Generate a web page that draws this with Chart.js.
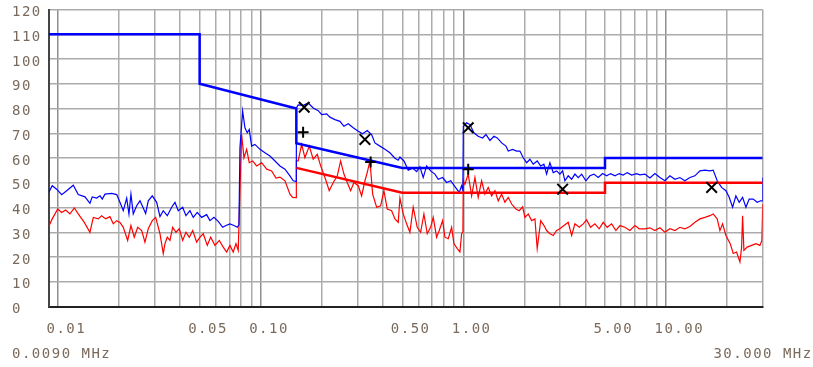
<!DOCTYPE html>
<html><head><meta charset="utf-8">
<script src="https://cdn.jsdelivr.net/npm/chart.js@4.4.1/dist/chart.umd.min.js"></script>
<style>html,body{margin:0;padding:0;background:#fff;}canvas{display:block;}</style>
</head><body>
<canvas id="c" width="813" height="367"></canvas>
<script>
// ---- data (MHz, dBuV) ----
const qpFreq = [0.009,0.00937,0.00985,0.01043,0.01104,0.0119,0.01259,0.01359,0.01438,0.01476,0.01552,0.01612,0.01654,0.01706,0.01841,0.01949,0.02022,0.0210,0.02183,0.0224,0.02291,0.02352,0.02445,0.02539,0.02605,0.02708,0.02789,0.02919,0.03069,0.03186,0.03307,0.03461,0.03639,0.03778,0.03921,0.04123,0.0428,0.0448,0.0465,0.04866,0.05117,0.05415,0.0562,0.05882,0.06176,0.06494,0.06741,0.07056,0.07382,0.07665,0.07816,0.07903,0.08151,0.08367,0.08586,0.08785,0.09027,0.0937,0.09922,0.105,0.1111,0.1177,0.1245,0.1318,0.1395,0.1448,0.1495,0.150,0.1532,0.1623,0.1717,0.1817,0.1924,0.200,0.2117,0.2197,0.2326,0.2462,0.2576,0.2705,0.2863,0.3031,0.3186,0.3356,0.3528,0.3662,0.3878,0.4104,0.4343,0.4598,0.4773,0.4866,0.5093,0.5347,0.562,0.5882,0.6106,0.6341,0.6592,0.6896,0.724,0.7519,0.7903,0.8272,0.8657,0.9091,0.9546,0.9808,0.995,1.0,1.038,1.078,1.128,1.184,1.245,1.293,1.353,1.416,1.470,1.545,1.623,1.666,1.751,1.832,1.902,1.975,2.053,2.131,2.212,2.315,2.406,2.497,2.576,2.674,2.777,2.886,2.996,3.090,3.171,3.293,3.423,3.553,3.690,3.835,4.025,4.213,4.410,4.630,4.866,5.093,5.331,5.598,5.877,6.150,6.436,6.768,7.161,7.433,7.870,8.329,8.815,9.333,9.876,10.45,11.07,11.71,12.39,13.12,13.89,14.70,15.56,16.47,17.09,17.89,18.81,19.75,20.50,21.31,22.12,22.97,23.87,24.79,25.73,26.93,28.18,29.29,29.9,30];
const qpLevel = [46.1,48.8,47.4,45.2,46.8,49.0,45.2,44.3,41.7,44.3,43.8,44.7,43.4,45.4,45.7,45.2,42.1,38.7,43.8,37.4,45.4,37.4,40.7,42.7,40.7,37.6,42.7,44.7,42.1,36.3,38.7,36.7,40.1,42.1,38.7,40.1,36.7,38.7,36.0,38.0,36.0,37.1,34.7,36.0,34.4,32.0,32.7,33.4,32.7,32.0,33.0,64.1,78.9,72.2,70.2,71.5,64.8,65.5,63.5,62.1,60.8,58.8,56.8,55.5,52.8,50.8,50.5,80.2,81.5,81.3,82.2,80.2,79.1,77.5,77.8,76.5,75.5,74.8,72.8,73.8,72.2,70.8,69.8,71.1,69.5,66.1,64.8,63.5,62.1,59.9,59.1,60.4,58.8,55.1,55.9,54.5,56.4,52.1,56.8,54.8,53.5,51.4,52.1,50.1,50.8,48.4,46.1,48.8,47.0,72.8,74.2,73.5,70.2,68.8,68.1,69.5,67.1,68.8,68.1,66.1,64.8,62.8,63.5,62.8,62.8,60.1,58.1,59.5,57.5,58.8,56.8,57.5,53.5,58.1,54.1,54.8,53.5,54.8,50.8,52.8,51.4,53.5,52.1,53.5,50.8,52.8,53.5,52.1,53.7,52.8,53.7,52.8,53.7,53.1,54.1,53.1,53.7,53.2,53.5,51.9,53.7,52.1,50.8,52.8,51.4,52.1,50.8,52.1,52.8,54.8,55.1,54.8,55.1,50.8,48.1,46.8,44.1,40.1,44.7,42.1,44.1,40.1,43.4,43.4,42.1,42.7,42.7,52.1];

const avFreq = [0.009,0.00937,0.00997,0.01043,0.01091,0.01146,0.01204,0.01259,0.01348,0.01438,0.01494,0.0158,0.01643,0.0172,0.01805,0.01874,0.01949,0.02022,0.0210,0.02207,0.02291,0.02379,0.02473,0.02588,0.02686,0.02789,0.02919,0.03034,0.03186,0.03307,0.03372,0.03461,0.03569,0.0368,0.03822,0.03967,0.04123,0.0428,0.04444,0.0462,0.04832,0.05019,0.0521,0.05453,0.05667,0.05951,0.06248,0.06537,0.06794,0.07056,0.07324,0.07554,0.07751,0.07903,0.08058,0.08271,0.08531,0.08785,0.09131,0.09554,0.1012,0.1071,0.1133,0.119,0.1245,0.1318,0.1395,0.1438,0.1495,0.150,0.1532,0.1593,0.1654,0.1737,0.1817,0.1902,0.1977,0.2076,0.218,0.2282,0.2388,0.2481,0.2576,0.2674,0.278,0.2885,0.3031,0.3149,0.327,0.3356,0.3461,0.357,0.3735,0.3908,0.4057,0.4213,0.4428,0.4598,0.4773,0.4866,0.5053,0.5249,0.5451,0.5658,0.5923,0.6157,0.6391,0.6637,0.6896,0.7105,0.7382,0.7607,0.7903,0.8112,0.8424,0.8757,0.8986,0.9333,0.9621,0.9808,0.995,1.0,1.018,1.057,1.099,1.141,1.184,1.231,1.278,1.327,1.379,1.432,1.487,1.545,1.604,1.666,1.731,1.818,1.887,1.962,2.013,2.091,2.173,2.256,2.315,2.409,2.501,2.576,2.674,2.777,2.886,2.996,3.058,3.293,3.423,3.553,3.731,3.905,4.058,4.246,4.459,4.681,4.899,5.129,5.390,5.660,5.924,6.270,6.635,7.024,7.375,7.870,8.329,8.815,9.333,9.876,10.45,11.07,11.71,12.39,13.12,13.89,14.70,15.56,16.47,17.09,17.89,18.45,19.02,19.75,20.74,21.46,22.30,23.16,23.61,23.87,24.23,25.15,26.45,27.77,29.06,29.72,30];
const avLevel = [32.3,35.4,39.4,38.0,39.0,37.4,39.8,37.4,34.0,30.0,36.0,35.4,36.7,35.4,36.3,33.4,34.7,34.0,32.0,26.7,32.7,28.0,32.0,30.7,26.0,31.4,34.7,36.0,29.4,21.4,25.4,28.0,26.7,32.0,30.0,31.4,26.7,30.0,28.0,30.7,26.0,28.0,29.4,24.7,28.0,24.7,26.7,24.0,22.0,24.7,22.0,25.4,22.7,46.8,69.5,60.1,63.5,58.1,58.8,56.8,58.1,55.5,54.8,51.9,52.3,50.8,45.4,44.1,44.0,58.8,58.8,65.5,60.1,64.8,59.5,61.5,56.8,52.1,46.8,50.1,52.8,58.8,53.5,50.1,46.8,50.1,48.8,44.7,50.8,54.1,58.8,45.4,40.1,40.7,46.8,39.4,38.7,35.4,34.0,43.8,37.4,33.4,30.0,40.1,32.0,30.0,37.4,29.4,32.0,36.0,28.0,30.7,34.7,28.0,27.4,32.0,25.4,23.4,22.0,29.4,30.0,50.8,49.4,53.5,44.7,52.1,44.1,50.8,45.4,48.1,44.7,46.8,42.7,45.4,42.1,44.1,41.4,39.4,38.7,40.3,36.0,37.4,34.7,35.4,23.4,34.7,32.7,30.7,29.4,28.7,30.7,31.4,32.0,34.0,28.7,33.4,32.0,33.4,35.0,32.0,33.4,31.4,34.0,32.0,33.4,30.7,32.7,32.0,30.7,32.7,31.4,31.4,31.8,30.7,31.8,30.0,31.4,30.7,32.0,31.4,32.3,34.0,35.4,36.0,36.7,37.4,35.4,30.7,33.4,28.7,25.4,21.4,22.0,18.0,24.0,36.7,22.7,24.0,24.7,25.4,24.7,26.7,41.4];

const qpLimitFreq = [0.009,0.05,0.05,0.15,0.15,0.5,5,5,30];
const qpLimitLevel = [110,110,90,80,66,56,56,60,60];
const avLimitFreq = [0.15,0.5,5,5,30];
const avLimitLevel = [56,46,46,50,50];

const qpMarkFreq = [0.164,0.327,1.057,3.09,16.8];
const qpMarkLevel = [80.5,67.5,72.2,47.4,48.1];
const avMarkFreq = [0.162,0.349,1.057];
const avMarkLevel = [70.4,58.4,55.5];

const gridFreq = [0.01,0.02,0.03,0.04,0.05,0.06,0.07,0.08,0.09,0.1,0.2,0.3,0.4,0.5,0.6,0.7,0.8,0.9,1,2,3,4,5,6,7,8,9,10,20,30];
const xLabelFreq = [0.01,0.05,0.1,0.5,1,5,10];
const xLabelText = ['0.01','0.05','0.10','0.50','1.00','5.00','10.00'];
const rangeLabels = ['0.0090 MHz','30.000 MHz'];

// ---- styling ----
const textColor = '#7a6a5c';
const monoFont = {family:'"DejaVu Sans Mono", "Liberation Mono", monospace', size:14};
const pts = (xs, ys) => xs.map((x,i)=>({x:x, y:ys[i]}));
const labelFor = v => { const i = xLabelFreq.findIndex(f => Math.abs(v-f)/f < 1e-6); return i>=0 ? xLabelText[i] : ''; };
const isDecade = v => Math.abs(Math.log10(v) - Math.round(Math.log10(v))) < 1e-6;

const spacingPlugin = {
  id:'spacing',
  beforeUpdate(c){ c.ctx.letterSpacing = '1.5px'; },
  beforeDraw(c){ c.ctx.letterSpacing = '1.5px'; },
  afterDraw(c){
    const ctx = c.ctx, a = c.chartArea;
    ctx.save();
    ctx.letterSpacing = '1.5px';
    ctx.font = '14px "DejaVu Sans Mono", "Liberation Mono", monospace';
    ctx.fillStyle = textColor;
    ctx.textBaseline = 'middle';
    ctx.textAlign = 'left';
    ctx.fillText(rangeLabels[0], a.left - 36.7, 354);
    ctx.textAlign = 'right';
    ctx.fillText(rangeLabels[1], a.right + 50, 354);
    ctx.restore();
  }
};

new Chart(document.getElementById('c'), {
  type:'line',
  data:{ datasets:[
    {data:pts(qpMarkFreq,qpMarkLevel), showLine:false, pointStyle:'crossRot', pointRadius:7.5, pointBorderWidth:2, borderColor:'#000', backgroundColor:'#000', order:1},
    {data:pts(avMarkFreq,avMarkLevel), showLine:false, pointStyle:'cross', pointRadius:5.5, pointBorderWidth:2, borderColor:'#000', backgroundColor:'#000', order:2},
    {data:pts(qpLimitFreq,qpLimitLevel), borderColor:'#0000ff', borderWidth:2.5, pointRadius:0, tension:0, order:3},
    {data:pts(avLimitFreq,avLimitLevel), borderColor:'#ff0000', borderWidth:2.5, pointRadius:0, tension:0, order:4},
    {data:pts(qpFreq,qpLevel), borderColor:'#0000ff', borderWidth:1.2, pointRadius:0, tension:0, order:5},
    {data:pts(avFreq,avLevel), borderColor:'#ff0000', borderWidth:1.2, pointRadius:0, tension:0, order:6}
  ]},
  options:{
    responsive:false, animation:false, devicePixelRatio:1,
    layout:{padding:{left:12, top:7.5, right:50.3, bottom:0}},
    plugins:{legend:{display:false}, tooltip:{enabled:false}},
    scales:{
      x:{
        type:'logarithmic', min:0.009, max:30,
        afterBuildTicks: s => { s.ticks = gridFreq.map(v => ({value:v})); },
        afterFit: s => { s.height = 60.5; },
        grid:{ color: ctx => (ctx.tick && isDecade(ctx.tick.value)) ? '#8f8f8f' : '#ababab', lineWidth:1.5, drawTicks:false },
        border:{ display:true, color:'#222', width:2 },
        ticks:{ autoSkip:false, maxRotation:0, minRotation:0, align:'start', labelOffset:-11.5, padding:14.5, color:textColor, font:monoFont, callback: v => labelFor(v) }
      },
      y:{
        min:0, max:120,
        afterFit: s => { s.width = 36.7; },
        grid:{ color:'#ababab', lineWidth:1.5, drawTicks:false },
        border:{ display:true, color:'#444', width:2 },
        ticks:{ stepSize:10, crossAlign:'far', labelOffset:3, padding:0, color:textColor, font:monoFont }
      }
    }
  },
  plugins:[spacingPlugin]
});
</script>
</body></html>
